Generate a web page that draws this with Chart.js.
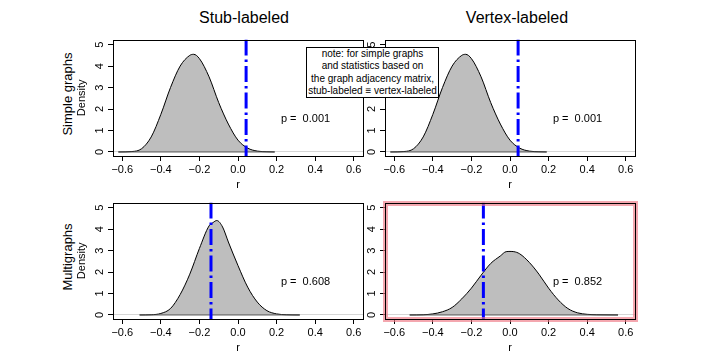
<!DOCTYPE html>
<html>
<head>
<meta charset="utf-8">
<script src="https://cdn.jsdelivr.net/npm/chart.js@4.4.0/dist/chart.umd.min.js"></script>
<style>
  body { margin: 0; width: 706px; height: 353px; background: #fff; position: relative; overflow: hidden;
         font-family: "Liberation Sans", Arial, sans-serif; }
  canvas { position: absolute; }
  .lbl { position: absolute; white-space: nowrap; color: #000; }
  .col { font-size: 16px; transform: translate(-50%, -50%); }
  .row { font-size: 13px; transform: translate(-50%, -50%) rotate(-90deg); }
  #note { position: absolute; left: 306px; top: 47px; width: 133px; height: 51px; border: 1px solid #000;
          background: #fff; font-size: 10px; line-height: 12.3px; text-align: center; z-index: 5;
          box-sizing: border-box; padding-top: 0px; }
</style>
</head>
<body>
<div class="lbl col" style="left:244px; top:18px">Stub-labeled</div>
<div class="lbl col" style="left:517px; top:18px">Vertex-labeled</div>
<div class="lbl row" style="left:67px; top:94px">Simple graphs</div>
<div class="lbl row" style="left:67px; top:257px">Multigraphs</div>

<canvas id="c0" width="299" height="168" style="left:68px; top:28px"></canvas>
<canvas id="c1" width="299" height="168" style="left:340px; top:28px"></canvas>
<canvas id="c2" width="299" height="168" style="left:68px; top:191px"></canvas>
<canvas id="c3" width="299" height="168" style="left:340px; top:191px"></canvas>

<div id="note">note: for simple graphs<br>and statistics based on<br>the graph adjacency matrix,<br>stub-labeled &#8801; vertex-labeled</div>

<script>
// ejes
var xTicks = [-0.6, -0.4, -0.2, 0, 0.2, 0.4, 0.6];
var xTickLabels = ['\u22120.6', '\u22120.4', '\u22120.2', '0.0', '0.2', '0.4', '0.6'];
var yTicks = [0, 1, 2, 3, 4, 5];

// densidad, grafos simples (igual en ambas columnas)
var simpleR = [-0.62, -0.55, -0.50, -0.45, -0.40, -0.35, -0.30, -0.25, -0.23, -0.20, -0.15, -0.10, -0.05, 0.00, 0.05, 0.10, 0.15, 0.19];
var simpleDens = [0.0, 0.02, 0.15, 0.7, 1.75, 3.0, 4.0, 4.5, 4.55, 4.35, 3.5, 2.3, 1.3, 0.55, 0.18, 0.04, 0.01, 0.0];

// densidad, multigrafos stub-labeled
var multiStubR = [-0.51, -0.45, -0.40, -0.35, -0.30, -0.25, -0.20, -0.15, -0.13, -0.11, -0.08, -0.05, 0.00, 0.05, 0.10, 0.15, 0.20, 0.25, 0.32];
var multiStubDens = [0.0, 0.01, 0.07, 0.3, 0.95, 1.9, 3.1, 4.15, 4.3, 4.4, 4.1, 3.4, 2.3, 1.3, 0.6, 0.2, 0.05, 0.01, 0.0];

// densidad, multigrafos vertex-labeled
var multiVertR = [-0.52, -0.45, -0.40, -0.35, -0.30, -0.25, -0.20, -0.15, -0.10, -0.05, -0.02, 0.00, 0.02, 0.05, 0.10, 0.15, 0.20, 0.25, 0.30, 0.35, 0.40, 0.45, 0.56];
var multiVertDens = [0.0, 0.01, 0.05, 0.15, 0.35, 0.75, 1.25, 1.85, 2.4, 2.75, 2.95, 2.96, 2.95, 2.85, 2.45, 1.9, 1.25, 0.7, 0.3, 0.1, 0.03, 0.01, 0.0];

// valor observado y p-valor de cada panel
var observedR = [0.042, 0.042, -0.14, -0.138];
var pValues = ['0.001', '0.001', '0.608', '0.852'];

var xMin = -0.648, xMax = 0.648;
var yMin = -0.188, yMax = 5.235;

Chart.defaults.font.family = '"Liberation Sans", Arial, sans-serif';
Chart.defaults.color = '#000';

/**
 * Texto del p-valor, recuadro y resaltado del panel
 */
var panelDecor = {
    id: 'panelDecor',
    afterDatasetsDraw(chart, args, opts) {
        var ctx = chart.ctx, a = chart.chartArea;
        ctx.save();
        ctx.font = '11px "Liberation Sans", Arial, sans-serif';
        ctx.fillStyle = '#000';
        ctx.textAlign = 'center';
        ctx.textBaseline = 'middle';
        ctx.fillText('p =  ' + opts.p, chart.scales.x.getPixelForValue(0.35), chart.scales.y.getPixelForValue(1.53));
        var l = Math.round(a.left) + 0.5, t = Math.round(a.top) + 0.5;
        var w = Math.round(a.right - a.left), h = Math.round(a.bottom - a.top);
        if (opts.highlight) {
            ctx.strokeStyle = 'rgba(238,120,132,0.65)';
            ctx.lineWidth = 5;
            ctx.strokeRect(l, t, w, h);
        }
        ctx.strokeStyle = '#000';
        ctx.lineWidth = 1;
        ctx.strokeRect(l, t, w, h);
        ctx.restore();
    }
};

function makePanel(id, xs, ys, k, showDensity) {
    return new Chart(document.getElementById(id), {
        type: 'line',
        data: {
            datasets: [{
                // valor observado
                data: [{x: observedR[k], y: yMax}, {x: observedR[k], y: yMin}],
                borderColor: '#0000ff',
                borderWidth: 3,
                borderDash: [16, 4, 2.5, 4],
                pointRadius: 0,
                fill: false,
                order: 0
            }, {
                // borde inferior del polígono
                data: [{x: xs[0], y: 0}, {x: xs[xs.length - 1], y: 0}],
                borderColor: '#555',
                borderWidth: 1,
                pointRadius: 0,
                fill: false,
                order: 1
            }, {
                data: xs.map((x, i) => ({x: x, y: ys[i]})),
                borderColor: '#000',
                borderWidth: 1,
                backgroundColor: '#bebebe',
                fill: 'origin',
                pointRadius: 0,
                cubicInterpolationMode: 'monotone',
                order: 2
            }]
        },
        options: {
            responsive: false,
            animation: false,
            layout: { padding: { top: 4, right: 4, left: 0, bottom: 0 } },
            plugins: {
                legend: { display: false },
                tooltip: { enabled: false },
                panelDecor: { p: pValues[k], highlight: k === 3 }
            },
            scales: {
                x: {
                    type: 'linear', min: xMin, max: xMax,
                    afterBuildTicks: s => { s.ticks = xTicks.map(v => ({value: v})); },
                    afterFit: s => { s.height = 40; },
                    grid: { drawOnChartArea: false, tickLength: 5, tickColor: '#000', color: '#000' },
                    border: { display: false },
                    ticks: { maxRotation: 0, autoSkip: false, padding: 2, font: { size: 11 },
                             callback: (v, i) => xTickLabels[i] },
                    title: { display: true, text: 'r', font: { size: 11 }, padding: { top: 0, bottom: 4 } }
                },
                y: {
                    type: 'linear', min: yMin, max: yMax,
                    afterBuildTicks: s => { s.ticks = yTicks.map(v => ({value: v})); },
                    afterCalculateLabelRotation: s => { s.labelRotation = 90; },
                    afterFit: s => { s.width = 45; },
                    grid: { tickLength: 5, tickColor: '#000',
                            color: c => (c.tick && c.tick.value === 0) ? '#d6d6d6' : 'rgba(0,0,0,0)' },
                    border: { display: false },
                    ticks: { minRotation: 90, maxRotation: 90, crossAlign: 'center', padding: 5, font: { size: 11 } },
                    title: { display: showDensity, text: 'Density', font: { size: 11 }, padding: { top: 7, bottom: 0 } }
                }
            }
        },
        plugins: [panelDecor]
    });
}

makePanel('c0', simpleR, simpleDens, 0, true);
makePanel('c1', simpleR, simpleDens, 1, false);
makePanel('c2', multiStubR, multiStubDens, 2, true);
makePanel('c3', multiVertR, multiVertDens, 3, false);
</script>
</body>
</html>
